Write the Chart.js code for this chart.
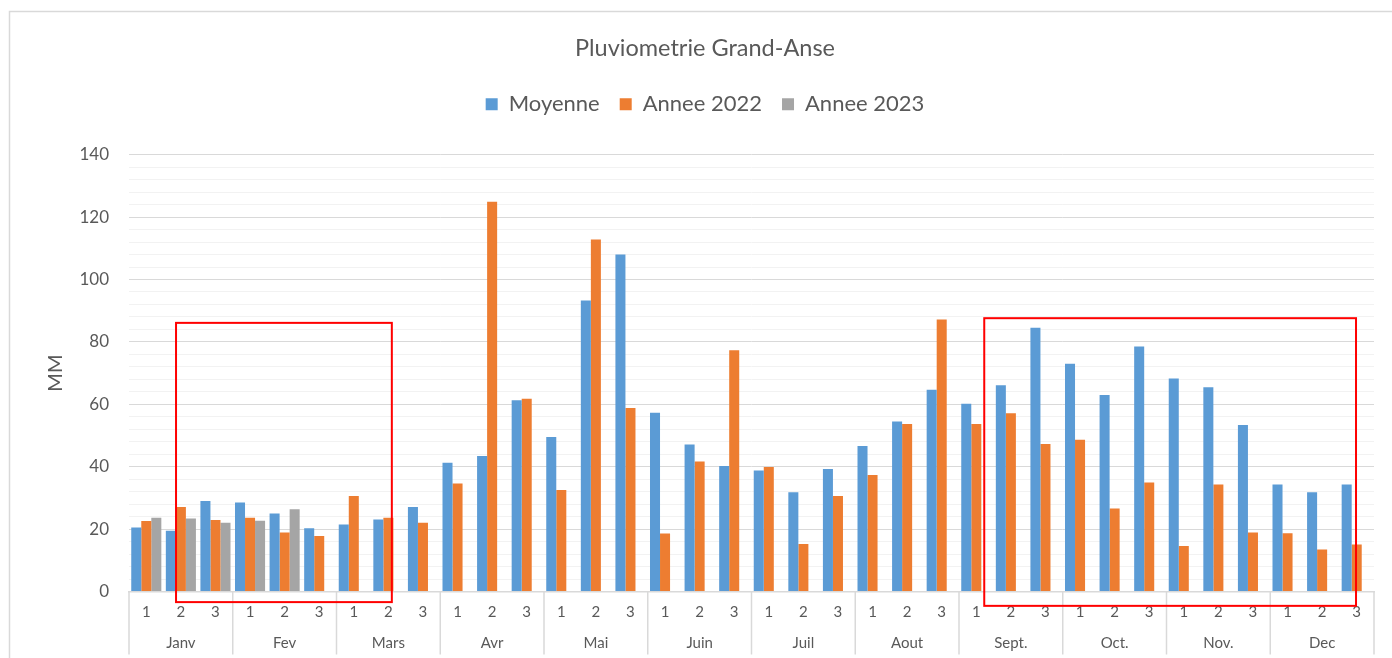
<!DOCTYPE html>
<html lang="fr">
<head>
<meta charset="UTF-8">
<title>Pluviometrie Grand-Anse</title>
<script src="https://cdn.jsdelivr.net/npm/chart.js"></script>
<style>
    html, body { margin: 0; padding: 0; background: #fff; }
    #wrap { width: 1392px; height: 658px; position: relative; }
</style>
</head>
<body>
<div id="wrap"><canvas id="pluvioChart"></canvas></div>
<script>
    // decades (1, 2, 3) for each month
    const months = ['Janv', 'Fev', 'Mars', 'Avr', 'Mai', 'Juin', 'Juil', 'Aout', 'Sept.', 'Oct.', 'Nov.', 'Dec'];
    const decades = ['1', '2', '3'];
    const categories = months.flatMap(() => decades);

    const moyenne = [20.5, 19.5, 29, 28.5, 25, 20.3, 21.5, 23.1, 27.1, 41.3, 43.4, 61.3,
        49.5, 93.3, 108, 57.3, 47.1, 40.2, 38.8, 31.8, 39.3, 46.6, 54.5, 64.7,
        60.2, 66.1, 84.5, 73, 63, 78.5, 68.3, 65.5, 53.4, 34.3, 31.8, 34.3];
    const annee2022 = [22.6, 27.1, 22.9, 23.6, 18.9, 17.8, 30.6, 23.6, 22, 34.6, 124.9, 61.8,
        32.5, 112.8, 58.8, 18.6, 41.7, 77.3, 39.9, 15.2, 30.6, 37.3, 53.7, 87.2,
        53.7, 57.1, 47.3, 48.6, 26.6, 34.9, 14.6, 34.3, 18.9, 18.7, 13.5, 15.1];
    const annee2023 = [23.6, 23.4, 22, 22.7, 26.4, null, null, null, null, null, null, null,
        null, null, null, null, null, null, null, null, null, null, null, null,
        null, null, null, null, null, null, null, null, null, null, null, null];

    const yTicksMajor = 20;
    const yTicksMinor = 4;

    // red highlight frames, in category index / MM units
    const highlightBoxes = [
        { x0: 0.86, x1: 7.1, y0: -3.4, y1: 86.1 },
        { x0: 24.23, x1: 34.98, y0: -4.6, y1: 87.6 }
    ];

    const textColor = '#595959';
    Chart.defaults.font.family = 'Lato, "Open Sans", sans-serif';
    Chart.defaults.color = textColor;

    // white background + outer frame
    const frame = {
        id: 'frame',
        beforeDraw(chart) {
            const c = chart.ctx;
            c.save();
            c.fillStyle = '#fff';
            c.fillRect(0, 0, chart.width, chart.height);
            c.strokeStyle = '#d9d9d9';
            c.lineWidth = 1.5;
            c.strokeRect(9.5, 11.5, chart.width + 20, chart.height + 20);
            c.restore();
        }
    };

    // month separators under the axis + red frames
    const overlays = {
        id: 'overlays',
        afterDraw(chart) {
            const c = chart.ctx;
            const x = chart.scales.x, y = chart.scales.y, x2 = chart.scales.x2;
            const half = (x.getPixelForValue(1) - x.getPixelForValue(0)) / 2;
            c.save();
            c.strokeStyle = '#d9d9d9';
            c.lineWidth = 1.5;
            for (let m = 0; m <= months.length; m++) {
                const px = x.getPixelForValue(m * 3) - half;
                c.beginPath();
                c.moveTo(px, chart.chartArea.bottom);
                c.lineTo(px, x2.bottom);
                c.stroke();
            }
            c.strokeStyle = '#ff0000';
            c.lineWidth = 2;
            highlightBoxes.forEach(b => {
                const l = x.getPixelForValue(b.x0), r = x.getPixelForValue(b.x1);
                const t = y.getPixelForValue(b.y1), btm = y.getPixelForValue(b.y0);
                c.strokeRect(l, t, r - l, btm - t);
            });
            c.restore();
        }
    };

    new Chart(document.getElementById('pluvioChart'), {
        type: 'bar',
        data: {
            labels: categories,
            datasets: [
                { label: 'Moyenne', data: moyenne, backgroundColor: '#5B9BD5' },
                { label: 'Annee 2022', data: annee2022, backgroundColor: '#ED7D31' },
                { label: 'Annee 2023', data: annee2023, backgroundColor: '#A5A5A5' }
            ]
        },
        options: {
            responsive: true,
            maintainAspectRatio: false,
            animation: false,
            categoryPercentage: 0.87,
            barPercentage: 1,
            layout: { padding: { left: 36, right: 18, top: 0, bottom: 3.5 } },
            plugins: {
                title: {
                    display: true,
                    text: 'Pluviometrie Grand-Anse',
                    color: textColor,
                    font: { size: 23.5, weight: 'normal' },
                    padding: { top: 34, bottom: 11 }
                },
                legend: {
                    labels: {
                        boxWidth: 12,
                        boxHeight: 12,
                        padding: 20,
                        color: textColor,
                        font: { size: 22 }
                    }
                },
                // empty spacer between legend and plot
                subtitle: {
                    display: true,
                    text: ' ',
                    weight: 500,
                    font: { size: 1, lineHeight: 1 },
                    padding: { top: 0, bottom: 28.5 }
                },
                tooltip: { enabled: false }
            },
            scales: {
                x: {
                    weight: 0,
                    grid: { display: false },
                    border: { color: '#d9d9d9', width: 1.5 },
                    ticks: { color: textColor, font: { size: 15 }, padding: 4, autoSkip: false, maxRotation: 0 },
                    afterFit(scale) { scale.height = 35; }
                },
                x2: {
                    type: 'category',
                    position: 'bottom',
                    weight: 1,
                    labels: months,
                    offset: true,
                    grid: { display: false },
                    border: { display: false },
                    ticks: { color: textColor, font: { size: 15 }, padding: 0, autoSkip: false, maxRotation: 0 },
                    afterFit(scale) { scale.height = 28; }
                },
                y: {
                    min: 0,
                    max: 140,
                    border: { display: false },
                    grid: {
                        drawTicks: false,
                        lineWidth: 1,
                        color: ctx => (ctx.tick && ctx.tick.value % yTicksMajor === 0) ? '#d9d9d9' : '#f2f2f2'
                    },
                    ticks: {
                        stepSize: yTicksMinor,
                        autoSkip: false,
                        padding: 20,
                        color: textColor,
                        font: { size: 17 },
                        callback: v => (v % yTicksMajor === 0 ? v : '')
                    },
                    title: {
                        display: true,
                        text: 'MM',
                        color: textColor,
                        font: { size: 20 },
                        padding: { top: 8, bottom: 0 }
                    },
                    afterFit(scale) { scale.width = 93; }
                }
            }
        },
        plugins: [frame, overlays]
    });
</script>
</body>
</html>
